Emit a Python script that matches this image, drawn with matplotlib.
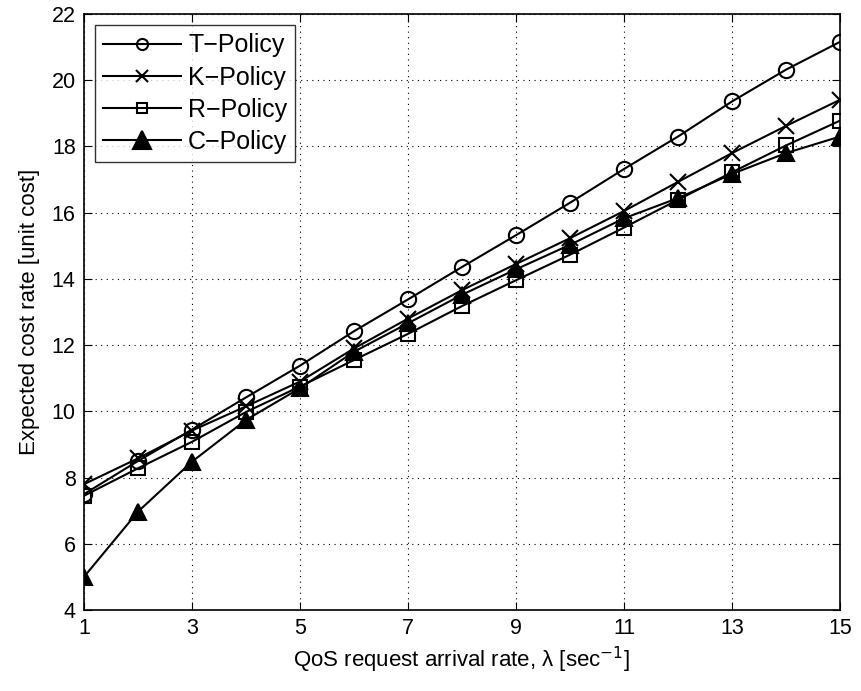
import matplotlib
matplotlib.use("Agg")
import matplotlib.pyplot as plt

plt.rcParams['font.family'] = ['Liberation Sans', 'DejaVu Sans']

x = [1, 2, 3, 4, 5, 6, 7, 8, 9, 10, 11, 12, 13, 14, 15]
t_policy = [7.5, 8.5, 9.45, 10.42, 11.38, 12.42, 13.38, 14.36, 15.32, 16.3, 17.32, 18.3, 19.36, 20.32, 21.16]
k_policy = [7.8, 8.58, 9.42, 10.15, 10.9, 11.9, 12.8, 13.66, 14.45, 15.23, 16.05, 16.93, 17.8, 18.62, 19.41]
r_policy = [7.45, 8.28, 9.08, 9.98, 10.75, 11.55, 12.34, 13.18, 13.96, 14.73, 15.55, 16.39, 17.22, 18.03, 18.78]
c_policy = [5.0, 6.97, 8.48, 9.74, 10.7, 11.8, 12.66, 13.52, 14.29, 15.03, 15.83, 16.44, 17.17, 17.8, 18.3]

xticks = [1, 3, 5, 7, 9, 11, 13, 15]
yticks = [4, 6, 8, 10, 12, 14, 16, 18, 20, 22]

fig = plt.figure(figsize=(8.62, 6.91), dpi=100)
ax = fig.add_axes([0.0974, 0.1172, 0.8771, 0.8625])

ax.plot(x, t_policy, marker='o', markerfacecolor='none', markersize=11, color='black',
        linewidth=1.5, markeredgewidth=1.5, label='T\u2212Policy')
ax.plot(x, k_policy, marker='x', markersize=12, color='black', linewidth=1.5,
        markeredgewidth=1.5, label='K\u2212Policy')
ax.plot(x, r_policy, marker='s', markerfacecolor='none', markersize=10, color='black',
        linewidth=1.5, markeredgewidth=1.5, label='R\u2212Policy')
ax.plot(x, c_policy, marker='^', markerfacecolor='black', markersize=11, color='black',
        linewidth=1.5, markeredgewidth=1.5, label='C\u2212Policy')

ax.set_xlim(1, 15)
ax.set_ylim(4, 22)
ax.set_xticks(xticks)
ax.set_yticks(yticks)
ax.tick_params(direction='in', top=True, right=True, labelsize=15.5, length=6, width=0.8, pad=6)
ax.grid(True, linestyle=(0, (1, 4)), color='black', linewidth=0.8)
for s in ax.spines.values():
    s.set_linewidth(1.2)

ax.set_xlabel('QoS request arrival rate, \u03bb [sec$^{-1}$]', fontsize=16, labelpad=4)
ax.set_ylabel('Expected cost rate [unit cost]', fontsize=16, labelpad=8)

leg = ax.legend(loc='upper left', fontsize=18, handlelength=3.1,
                frameon=True, fancybox=False, edgecolor='black', borderpad=0.32,
                labelspacing=0.33, handletextpad=0.3, borderaxespad=0.45)
leg.get_frame().set_linewidth(1.0)
for ln, ms in zip(leg.get_lines(), [8, 8, 7.5, 13]):
    ln.set_markersize(ms)

fig.savefig('out.png', dpi=100)
